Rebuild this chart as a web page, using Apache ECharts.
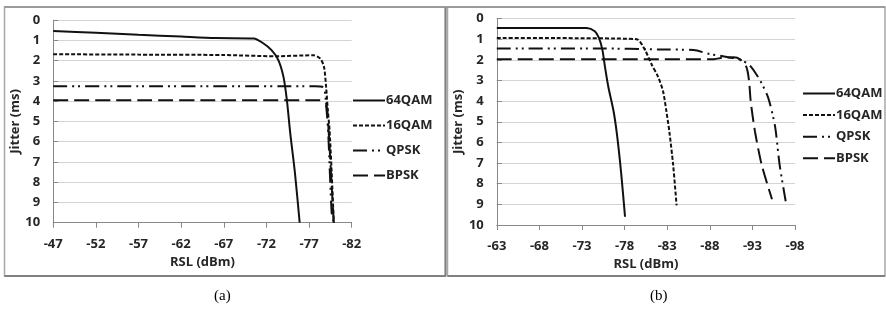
<!DOCTYPE html>
<html>
<head>
<meta charset="utf-8">
<script src="https://cdn.jsdelivr.net/npm/echarts@6/dist/echarts.min.js"></script>
<style>
html,body{margin:0;padding:0;background:#fff;}
#c{width:886px;height:323px;}
</style>
</head>
<body>
<div id="c"></div>
<script>
// Panel (a) data: RSL (dBm) and Jitter (ms)
const aRsl64 = [-47, -52, -57, -62, -66, -70.5, -71.5, -72.6, -73.4, -74.0, -74.4, -74.8, -75.35, -75.9];
const aJit64 = [0.53, 0.62, 0.72, 0.81, 0.88, 0.9, 1.1, 1.48, 1.97, 2.8, 3.95, 5.6, 7.56, 10];
const aRsl16 = [-47, -57, -67, -73, -77.5, -78.3, -78.75, -79.0, -79.2, -79.4, -79.65, -79.9];
const aJit16 = [1.68, 1.7, 1.72, 1.78, 1.73, 1.89, 2.3, 3.3, 4.44, 5.4, 7.5, 10];
const aRslQ = [-47, -57, -67, -77.7, -78.7, -79.0, -79.25, -79.65, -79.9];
const aJitQ = [3.26, 3.26, 3.26, 3.26, 3.32, 4.2, 5.6, 9.5, 10];
const aRslB = [-47, -57, -67, -78.3, -79.0, -79.3, -79.6, -79.9];
const aJitB = [3.95, 3.95, 3.95, 3.95, 4.1, 5.5, 7.8, 10];

// Panel (b) data
const bRsl64 = [-63, -68, -73.55, -74.5, -75.0, -75.4, -75.7, -76.1, -76.7, -77.1, -77.6, -78.05];
const bJit64 = [0.46, 0.46, 0.46, 0.62, 0.95, 1.53, 2.35, 3.33, 4.48, 5.6, 7.5, 9.6];
const bRsl16 = [-63, -70, -79.4, -80.4, -81.2, -81.9, -82.5, -82.9, -83.25, -83.7, -84.1];
const bJit16 = [0.95, 0.95, 1.0, 1.53, 2.25, 2.8, 3.5, 4.48, 5.47, 7.1, 9.05];
const bRslQ = [-63, -75, -82.2, -86.1, -88.0, -90.0, -91.55, -92.7, -93.9, -94.85, -95.65, -96.2, -96.95];
const bJitQ = [1.45, 1.45, 1.5, 1.53, 1.72, 1.86, 1.99, 2.27, 3.0, 3.83, 5.2, 7.1, 8.95];
const bRslB = [-63, -75, -88.5, -89.5, -90.8, -91.55, -92.3, -92.6, -92.8, -93.3, -94.1, -95.3];
const bJitB = [1.97, 1.97, 1.97, 1.9, 1.88, 1.98, 2.35, 3.0, 4.0, 5.47, 7.1, 8.75];

const seriesNames = ['64QAM', '16QAM', 'QPSK', 'BPSK'];
const aTickLabels = ['-47', '-52', '-57', '-62', '-67', '-72', '-77', '-82'];
const bTickLabels = ['-63', '-68', '-73', '-78', '-83', '-88', '-93', '-98'];
const yTickLabels = ['0','1','2','3','4','5','6','7','8','9','10'];
const aStart = -47, bStart = -63;

const FONT = '"Open Sans", "Liberation Sans", sans-serif';
const FS = 13;
const TXT = '#262626';
const lineColor = '#111';
const styles = {
  '64QAM': {type: 'solid', width: 2},
  '16QAM': {type: [4, 2], width: 2},
  'QPSK': {type: [14, 5, 2, 4, 2, 5], width: 2},
  'BPSK': {type: [15, 6], width: 2}
};

function pairs(rsl, jit, start) {
  return rsl.map((r, i) => [start - r, jit[i]]);
}

function mk(name, rsl, jit, start, idx) {
  return {
    name: name, type: 'line', xAxisIndex: idx, yAxisIndex: idx,
    data: pairs(rsl, jit, start),
    symbol: 'none', showSymbol: false, smooth: 0.25,
    lineStyle: {color: lineColor, width: styles[name].width, type: styles[name].type},
    itemStyle: {color: lineColor},
    silent: true, animation: false
  };
}

function xAx(idx, labels) {
  return {
    type: 'value', gridIndex: idx, min: 0, max: 35, interval: 5,
    name: 'RSL (dBm)', nameLocation: 'middle', nameGap: 32,
    nameTextStyle: {fontFamily: FONT, fontWeight: 'bold', fontSize: FS, color: TXT},
    axisLine: {show: true, onZero: false, lineStyle: {color: '#888', width: 1}},
    axisTick: {show: true, length: 5, lineStyle: {color: '#888'}},
    axisLabel: {margin: 15, fontFamily: FONT, fontWeight: 'bold', fontSize: FS, color: TXT,
      formatter: v => labels[Math.round(v / 5)]},
    splitLine: {show: false}
  };
}
function yAx(idx) {
  return {
    type: 'value', gridIndex: idx, min: 0, max: 10, interval: 1, inverse: true,
    name: 'Jitter (ms)', nameLocation: 'middle', nameGap: 29,
    nameTextStyle: {fontFamily: FONT, fontWeight: 'bold', fontSize: FS, color: TXT},
    axisLine: {show: true, lineStyle: {color: '#888', width: 1}},
    axisTick: {show: true, inside: true, length: 5, lineStyle: {color: '#888'}},
    axisLabel: {margin: 13, fontFamily: FONT, fontWeight: 'bold', fontSize: FS, color: TXT,
      formatter: v => yTickLabels[Math.round(v)]},
    splitLine: {show: true, lineStyle: {color: '#d4d4d4', width: 1}}
  };
}
function legend(left, top, gap) {
  return {
    data: seriesNames, orient: 'vertical', left: left, top: top, itemGap: gap,
    itemWidth: 32, itemHeight: 10, selectedMode: false,
    itemStyle: {opacity: 0},
    lineStyle: {opacity: 1},
    textStyle: {fontFamily: FONT, fontWeight: 'bold', fontSize: FS, color: TXT, padding: [0,0,0,-4]},
    padding: 0
  };
}

const chart = echarts.init(document.getElementById('c'), null, {renderer: 'canvas'});
chart.setOption({
  animation: false,
  backgroundColor: '#fff',
  grid: [
    {left: 53.2, right: 534.3, top: 20.2, bottom: 100.3},
    {left: 496.8, right: 91, top: 18.5, bottom: 98}
  ],
  xAxis: [xAx(0, aTickLabels), xAx(1, bTickLabels)],
  yAxis: [yAx(0), yAx(1)],
  legend: [legend(352, 94, 12), legend(802, 87, 8.6)],
  series: [
    mk('64QAM', aRsl64, aJit64, aStart, 0),
    mk('16QAM', aRsl16, aJit16, aStart, 0),
    mk('QPSK', aRslQ, aJitQ, aStart, 0),
    mk('BPSK', aRslB, aJitB, aStart, 0),
    mk('64QAM', bRsl64, bJit64, bStart, 1),
    mk('16QAM', bRsl16, bJit16, bStart, 1),
    mk('QPSK', bRslQ, bJitQ, bStart, 1),
    mk('BPSK', bRslB, bJitB, bStart, 1)
  ],
  graphic: [
    {type: 'rect', shape: {x: 4.5, y: 7, width: 441, height: 269}, style: {fill: 'none', stroke: '#a8a8a8', lineWidth: 1.5}, silent: true},
    {type: 'rect', shape: {x: 447.5, y: 7, width: 437.5, height: 269}, style: {fill: 'none', stroke: '#a8a8a8', lineWidth: 1.5}, silent: true},
    {type: 'line', shape: {x1: 4.5, y1: 276, x2: 446, y2: 276}, style: {stroke: '#808080', lineWidth: 2}, silent: true},
    {type: 'line', shape: {x1: 445.5, y1: 7, x2: 445.5, y2: 276}, style: {stroke: '#808080', lineWidth: 2}, silent: true},
    {type: 'line', shape: {x1: 447.5, y1: 276, x2: 885, y2: 276}, style: {stroke: '#808080', lineWidth: 2}, silent: true},
    {type: 'line', shape: {x1: 4.5, y1: 7, x2: 885, y2: 7}, style: {stroke: '#909090', lineWidth: 1.5}, silent: true},
    {type: 'text', left: 214, top: 289, style: {text: '(a)', font: '15px "Liberation Serif", serif', fill: '#000'}},
    {type: 'text', left: 650, top: 289, style: {text: '(b)', font: '15px "Liberation Serif", serif', fill: '#000'}}
  ]
});
</script>
</body>
</html>
